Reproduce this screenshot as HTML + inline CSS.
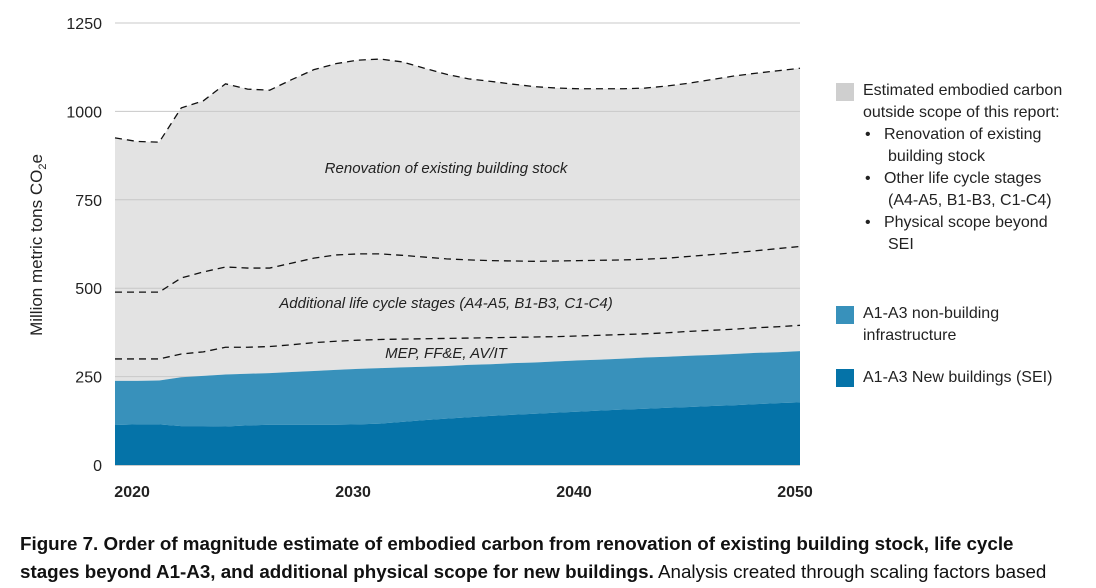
<!DOCTYPE html>
<html><head><meta charset="utf-8"><style>
body{margin:0;background:#fff;font-family:"Liberation Sans",sans-serif;}
#wrap{position:relative;width:1096px;height:588px;overflow:hidden;}
.leg{position:absolute;font-size:16px;color:#222;line-height:22px;}
.sw{position:absolute;width:18px;height:18px;}
.cap{position:absolute;left:20px;font-size:18.8px;color:#111;line-height:28px;white-space:nowrap;}
</style></head><body>
<div id="wrap">
<svg id="chart" width="1096" height="510" style="position:absolute;left:0;top:0"></svg>
<div class="sw" style="left:836px;top:83px;background:#cfcfcf"></div>
<div class="leg" style="left:863px;top:80px">Estimated embodied carbon<br>outside scope of this report:<br>
<span style="margin-left:2px">•</span>&nbsp;&nbsp;&nbsp;Renovation of existing<br><span style="margin-left:25px">building stock</span><br>
<span style="margin-left:2px">•</span>&nbsp;&nbsp;&nbsp;Other life cycle stages<br><span style="margin-left:25px">(A4-A5, B1-B3, C1-C4)</span><br>
<span style="margin-left:2px">•</span>&nbsp;&nbsp;&nbsp;Physical scope beyond<br><span style="margin-left:25px">SEI</span></div>
<div class="sw" style="left:836px;top:306px;background:#3891bb"></div>
<div class="leg" style="left:863px;top:303px">A1-A3 non-building<br>infrastructure</div>
<div class="sw" style="left:836px;top:369px;background:#0573a8"></div>
<div class="leg" style="left:863px;top:367px">A1-A3 New buildings (SEI)</div>
<div class="cap" style="top:530px;font-weight:bold">Figure 7. Order of magnitude estimate of embodied carbon from renovation of existing building stock, life cycle</div>
<div class="cap" style="top:558px"><b>stages beyond A1-A3, and additional physical scope for new buildings.</b> Analysis created through scaling factors based</div>
</div>
<script>
const years=[2019,2020,2021,2022,2023,2024,2025,2026,2027,2028,2029,2030,2031,2032,2033,2034,2035,2036,2037,2038,2039,2040,2041,2042,2043,2044,2045,2046,2047,2048,2049,2050];
const newBuildings=[113,115,115,110,110,109,112,114,114,114,114,115,117,122,127,131,135,139,142,145,148,151,154,157,159,162,164,167,169,172,175,177];
const nonBuildingTop=[238,238,239,248,252,256,258,260,263,266,269,272,274,276,278,280,283,285,288,290,293,296,298,301,304,306,309,311,314,317,319,322];
const mepTop=[300,300,300,314,320,333,333,335,340,346,350,353,355,356,357,358,359,360,361,362,363,365,367,369,371,374,378,381,384,388,391,395];
const lifeCycleTop=[489,489,489,529,546,560,557,557,571,585,594,597,597,593,588,583,580,578,577,576,577,578,579,580,582,585,590,595,600,606,612,618];
const totalTop=[925,915,913,1010,1030,1078,1063,1060,1090,1118,1135,1145,1148,1140,1122,1105,1092,1085,1077,1070,1066,1064,1064,1064,1066,1072,1080,1090,1100,1108,1115,1122];
const yTicks=[0,250,500,750,1000,1250];
const xTicks=[2020,2030,2040,2050];
const NS="http://www.w3.org/2000/svg";
const svg=document.getElementById('chart');
const x=v=>115+(v-2019)*(685/31);
const y=v=>465-v*(442/1250);
function mk(tag,attrs){const e=document.createElementNS(NS,tag);for(const k in attrs)e.setAttribute(k,attrs[k]);svg.appendChild(e);return e;}
function areaPath(top,bottom){let d='M'+years.map((yr,i)=>x(yr)+','+y(top[i])).join('L');for(let i=years.length-1;i>=0;i--)d+='L'+x(years[i])+','+y(bottom?bottom[i]:0);return d+'Z';}
function linePath(arr){return 'M'+years.map((yr,i)=>x(yr)+','+y(arr[i])).join('L');}
let a=mk('path',{d:areaPath(totalTop,nonBuildingTop),fill:'#e3e3e3'});


yTicks.forEach(t=>{
 if(t>0){const g=mk('line',{x1:115,x2:800,y1:y(t),y2:y(t),stroke:'#c8c8c8','stroke-width':1});
 
 }
 const l=mk('text',{x:102,y:y(t)+6,'text-anchor':'end','font-size':16,fill:'#222','font-family':'Liberation Sans'});
 l.textContent=t;
 
 
});
let b=mk('path',{d:areaPath(nonBuildingTop,newBuildings),fill:'#3891bb'});


let c=mk('path',{d:areaPath(newBuildings,null),fill:'#0573a8'});


[[totalTop,'line-total'],[lifeCycleTop,'line-life-cycle'],[mepTop,'line-mep']].forEach(([arr,n])=>{
 const p=mk('path',{d:linePath(arr),fill:'none',stroke:'#111','stroke-width':1.3,'stroke-dasharray':'7,5'});
 
 
});
const ax=mk('line',{x1:115,x2:800,y1:465.5,y2:465.5,stroke:'#ccc','stroke-width':1});


xTicks.forEach(t=>{
 const l=mk('text',{x:x(t)-5,y:497,'text-anchor':'middle','font-size':16,'font-weight':'bold',fill:'#222','font-family':'Liberation Sans'});
 l.textContent=t;
 
 
});
[['Renovation of existing building stock',446,173,'label-renovation'],['Additional life cycle stages (A4-A5, B1-B3, C1-C4)',446,308,'label-life-cycle'],['MEP, FF&E, AV/IT',446,358,'label-mep']].forEach(([s,xx,yy,n])=>{
 const l=mk('text',{x:xx,y:yy,'text-anchor':'middle','font-size':15,'font-style':'italic',fill:'#222','font-family':'Liberation Sans'});
 l.textContent=s;
 
 
});
const yt=mk('text',{transform:'translate(42,245) rotate(-90)','text-anchor':'middle','font-size':17,fill:'#222','font-family':'Liberation Sans'});
yt.innerHTML='Million metric tons CO<tspan font-size="11" dy="4">2</tspan><tspan dy="-4">e</tspan>';


</script>
</body></html>
